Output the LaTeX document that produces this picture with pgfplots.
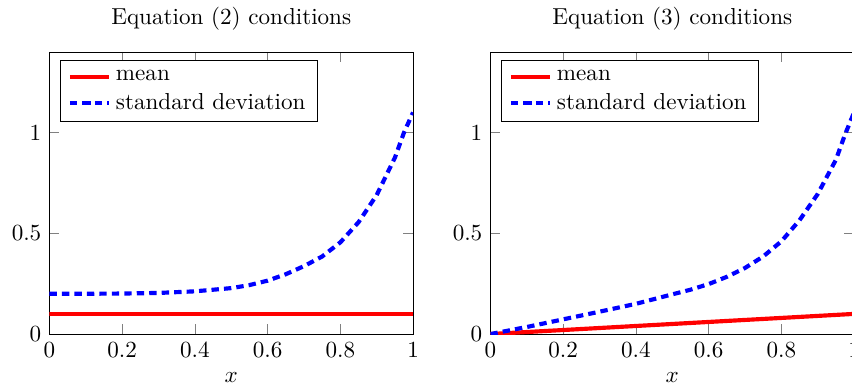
\documentclass[border=0pt]{standalone}
\usepackage{pgfplots}
\pgfplotsset{compat=1.18}
\begin{document}
\begin{tikzpicture}
\pgfplotsset{
  myax/.style={
    width=157.4pt, height=122.1pt, scale only axis,
    xmin=0, xmax=1, ymin=0, ymax=1.4,
    xtick={0,0.2,0.4,0.6,0.8,1},
    ytick={0,0.5,1},
    xlabel={$x$},
    legend pos=north west,
    legend cell align=left,
  }
}
\begin{axis}[myax, title={Equation (2) conditions}, at={(0pt,0pt)}, anchor=south west]
\addplot[red, line width=1.8pt] coordinates {(0,0.1) (1,0.1)};
\addlegendentry{mean}
\addplot[blue, line width=1.8pt, dash pattern=on 3.2pt off 2.2pt] coordinates {
(0,0.2) (0.1,0.2) (0.2,0.201) (0.3,0.204) (0.4,0.212) (0.5,0.228) (0.55,0.243)
(0.6,0.265) (0.65,0.297) (0.7,0.337) (0.75,0.385) (0.8,0.455) (0.85,0.555)
(0.9,0.69) (0.95,0.875) (0.975,1.0) (1,1.1)};
\addlegendentry{standard deviation}
\end{axis}
\begin{axis}[myax, title={Equation (3) conditions}, at={(190.9pt,0pt)}, anchor=south west]
\addplot[red, line width=1.8pt] coordinates {(0,0) (1,0.1)};
\addlegendentry{mean}
\addplot[blue, line width=1.8pt, dash pattern=on 3.2pt off 2.2pt] coordinates {
(0,0) (0.1,0.035) (0.2,0.073) (0.3,0.111) (0.4,0.15) (0.5,0.197) (0.55,0.22)
(0.6,0.248) (0.65,0.284) (0.7,0.328) (0.75,0.385) (0.8,0.46) (0.85,0.565)
(0.9,0.695) (0.95,0.865) (0.975,0.99) (1,1.1)};
\addlegendentry{standard deviation}
\end{axis}
\pgfresetboundingbox
\useasboundingbox (-21.4pt,-22.9pt) rectangle (347.4pt,144.6pt);
\end{tikzpicture}
\end{document}
